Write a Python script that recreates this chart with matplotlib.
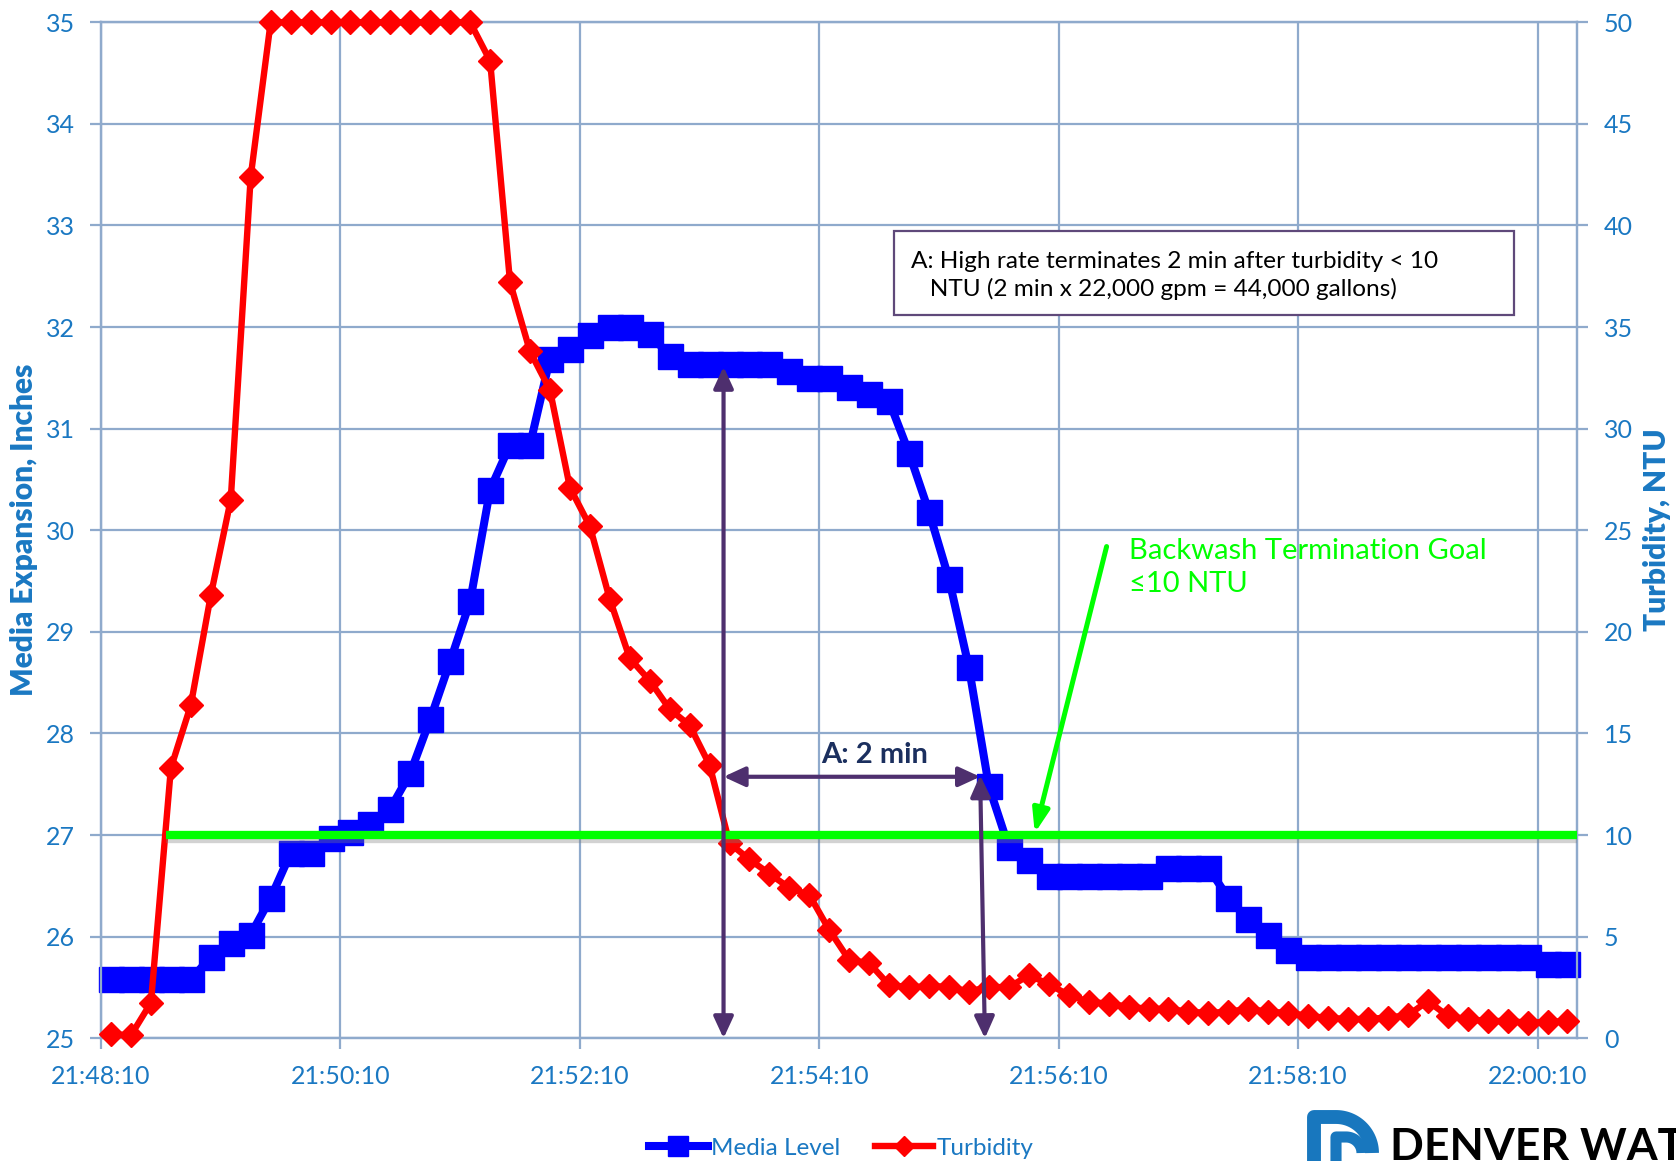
import matplotlib.pyplot as plt
import matplotlib.patheffects as pe
from matplotlib.patches import Rectangle
import numpy as np

plt.rcParams['font.family'] = ['Lato', 'DejaVu Sans']

# readings every 10 s, 21:48:10 -> 22:00:30
media_level = [
    25.58, 25.58, 25.58, 25.58, 25.58,
    25.80, 25.94, 26.02, 26.38, 26.82,
    26.82, 26.97, 27.03, 27.11, 27.26,
    27.61, 28.14, 28.71, 29.30, 30.40,
    30.84, 30.84, 31.69, 31.78, 31.92,
    32.00, 32.00, 31.93, 31.72, 31.64,
    31.64, 31.64, 31.64, 31.64, 31.57,
    31.50, 31.50, 31.41, 31.34, 31.27,
    30.76, 30.18, 29.52, 28.65, 27.48,
    26.88, 26.75, 26.60, 26.60, 26.60,
    26.60, 26.60, 26.60, 26.68, 26.68,
    26.68, 26.38, 26.17, 26.02, 25.87,
    25.80, 25.80, 25.80, 25.80, 25.80,
    25.80, 25.80, 25.80, 25.80, 25.80,
    25.80, 25.80, 25.73, 25.73,
]
turbidity = [
    0.2, 0.15, 1.75, 13.3, 16.4,
    21.8, 26.5, 42.4, 50, 50,
    50, 50, 50, 50, 50,
    50, 50, 50, 50, 48.1,
    37.2, 33.8, 31.9, 27.1, 25.2,
    21.6, 18.7, 17.6, 16.2, 15.4,
    13.45, 9.6, 8.8, 8.1, 7.4,
    7.05, 5.33, 3.85, 3.7, 2.62,
    2.51, 2.56, 2.54, 2.29, 2.54,
    2.5, 3.11, 2.66, 2.13, 1.8,
    1.7, 1.55, 1.45, 1.45, 1.3,
    1.25, 1.3, 1.45, 1.3, 1.25,
    1.1, 1.0, 0.95, 0.95, 1.02,
    1.13, 1.83, 1.1, 0.93, 0.85,
    0.85, 0.77, 0.8, 0.85,
]
tick_pos = [0, 12, 24, 36, 48, 60, 72]
tick_labels = ['21:48:10', '21:50:10', '21:52:10', '21:54:10',
               '21:56:10', '21:58:10', '22:00:10']

label_blue = '#1A78C2'
grid_col = '#8FAACC'
purple = '#4E2F6E'
green = '#00FF00'

fig = plt.figure(figsize=(16.76, 11.61), dpi=100)
ax = fig.add_axes([0.0603, 0.1057, 0.8809, 0.8751])
ax2 = ax.twinx()

x = np.arange(len(media_level)) + 0.5
ax.plot(x, media_level, color='#0000FF', lw=5.8, marker='s', ms=18,
        label='Media Level', zorder=3, clip_on=False)
ax2.plot(x, turbidity, color='#FF0000', lw=4.6, marker='D', ms=12.5,
         label='Turbidity', zorder=3, clip_on=False)

ax.set_xlim(0, 74)
ax.set_ylim(25, 35)
ax2.set_ylim(0, 50)
ax.set_xticks(tick_pos)
ax.set_xticklabels(tick_labels)
ax.set_yticks(range(25, 36))
ax2.set_yticks(range(0, 51, 5))
ax.grid(True, color=grid_col, lw=1.6)
ax.set_axisbelow(True)

for a in (ax, ax2):
    for s in a.spines.values():
        s.set_color(grid_col)
        s.set_linewidth(1.6)
    a.tick_params(colors=grid_col, labelcolor=label_blue, labelsize=18,
                  length=8, width=1.6, pad=11)

fig.text(24 / 1676, 1 - 530 / 1161, 'Media Expansion, Inches', rotation=90,
         ha='center', va='center', color=label_blue, fontsize=21.5, fontweight='heavy')
fig.text(1657 / 1676, 1 - 530 / 1161, 'Turbidity, NTU', rotation=90,
         ha='center', va='center', color=label_blue, fontsize=21.5, fontweight='heavy')

# termination goal line
shadow = [pe.SimpleLineShadow(offset=(0, -3), shadow_color='gray', alpha=0.35), pe.Normal()]
ax2.plot([3.25, 74], [10, 10], color=green, lw=6, solid_capstyle='butt',
         zorder=5, clip_on=False, path_effects=shadow)
ax2.annotate('', xy=(46.8, 10.1), xytext=(50.4, 24.2),
             arrowprops=dict(arrowstyle='-|>,head_length=0.7,head_width=0.25', color=green,
                             lw=3.6, shrinkA=0, shrinkB=0, mutation_scale=20), zorder=6)
ax2.text(51.5, 24.6, 'Backwash Termination Goal\n≤10 NTU', color=green, fontsize=21,
         ha='left', va='top', linespacing=1.3, zorder=6)

# "A: 2 min" arrows
arrow_kw = dict(arrowstyle='<|-|>,head_length=0.65,head_width=0.3', color=purple, lw=3,
                shrinkA=0, shrinkB=0, mutation_scale=20)
ax2.annotate('', xy=(31.2, 0), xytext=(31.2, 33.05), arrowprops=arrow_kw, zorder=7)
ax2.annotate('', xy=(44.3, 0), xytext=(44.06, 12.95), arrowprops=arrow_kw, zorder=7)
ax2.annotate('', xy=(31.2, 12.87), xytext=(44.06, 12.87), arrowprops=arrow_kw, zorder=7)
ax2.text(38.75, 13.95, 'A: 2 min', color='#1B2F5E', fontsize=21, fontweight='bold',
         ha='center', va='center', zorder=7)

# note box
ax2.add_patch(Rectangle((39.73, 35.6), 31.07, 4.13, facecolor='white',
                        edgecolor='#5F497A', lw=1.6, zorder=6))
ax2.text(40.6, 37.55, 'A: High rate terminates 2 min after turbidity < 10\n'
         '   NTU (2 min x 22,000 gpm = 44,000 gallons)',
         fontsize=17.6, color='black', ha='left', va='center', linespacing=1.3, zorder=7)

h1, l1 = ax.get_legend_handles_labels()
h2, l2 = ax2.get_legend_handles_labels()
fig.legend(h1 + h2, l1 + l2, loc='center', bbox_to_anchor=(0.502, 0.011), ncol=2,
           frameon=False, fontsize=17.5, labelcolor=label_blue, handlelength=2.4,
           handletextpad=0.15, columnspacing=1.4, markerscale=0.8)

# logo, cut at the figure edge as in the source
logo = fig.add_axes([1306 / 1676, 0, 80 / 1676, 50 / 1161])
logo.set_xlim(0, 80)
logo.set_ylim(0, 50)
logo.axis('off')
t = np.linspace(0, np.pi / 2, 40)
logo.plot(np.r_[8, 8, 30, 30 + 36 * np.sin(t)], np.r_[-10, 44, 44, 8 + 36 * np.cos(t)],
          color='#1877BE', lw=10, solid_capstyle='butt', clip_on=False)
logo.plot(np.r_[30, 30, 40, 40 + 16 * np.sin(t)], np.r_[-10, 24, 24, 8 + 16 * np.cos(t)],
          color='#1877BE', lw=8, solid_capstyle='butt', clip_on=False)
fig.text(1390 / 1676, 1 - 1147 / 1161, 'DENVER WATER', fontsize=32, fontweight='bold',
         color='black', ha='left', va='center')

fig.savefig('out.png', dpi=100)
